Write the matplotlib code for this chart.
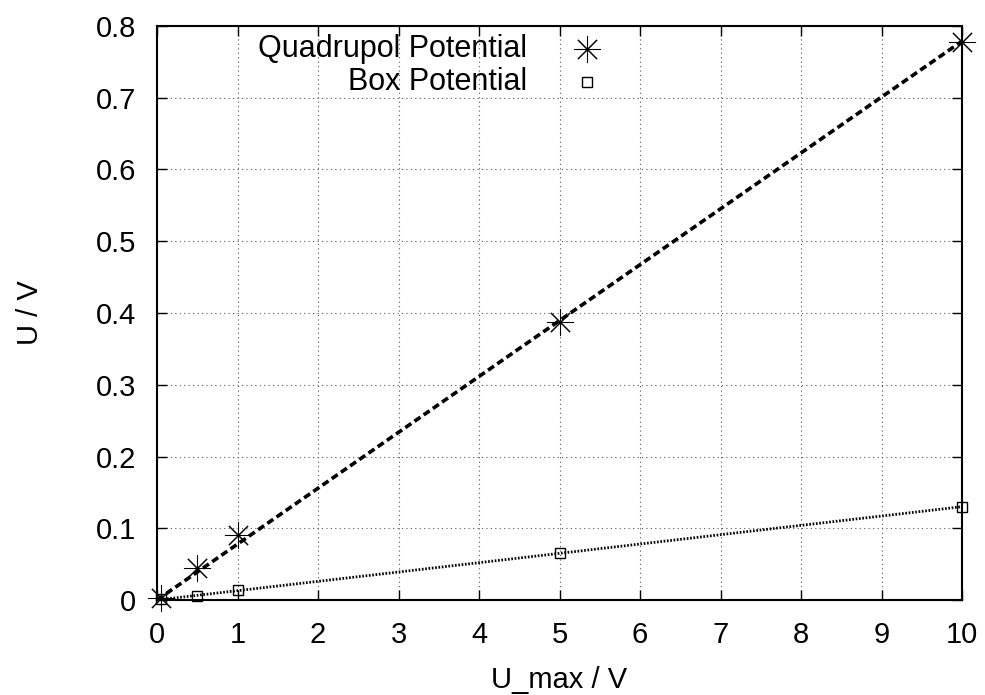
import numpy as np
import matplotlib; matplotlib.use("Agg")
import matplotlib.pyplot as plt
from matplotlib.lines import Line2D
from matplotlib.ticker import FuncFormatter

plt.rcParams['font.family'] = ['Liberation Sans', 'DejaVu Sans']

u_max = [0.05, 0.5, 1, 5, 10]
u_quad = [0.003, 0.045, 0.090, 0.388, 0.778]
u_box = [0.0007, 0.0056, 0.014, 0.065, 0.130]
labels = ["Quadrupol Potential", "Box Potential"]

# linear fits through origin, as in the original
def slope(x, y):
    x = np.array(x); y = np.array(y)
    return (x*y).sum()/(x*x).sum()
k_quad = slope(u_max, u_quad); k_box = slope(u_max, u_box)
xf = np.linspace(0, 10, 2)

W, H = 985, 695
fig = plt.figure(figsize=(W/100, H/100), dpi=100)
ax = fig.add_axes([157/W, 1-600/H, (962-157)/W, (600-26)/H])

STAR = dict(ls="none", marker=(8, 2, 0), ms=19.5, mew=0.75, color="black")
BOX = dict(ls="none", marker="s", ms=6.5, mew=1.0, mfc="none", mec="black")
ax.plot(xf, k_quad*xf, color="black", lw=2.6, ls=(0, (2.0, 1.1)))
ax.plot(xf, k_box*xf, color="black", lw=2.0, ls=(0, (0.6, 0.6)))
ax.plot(u_max, u_quad, clip_on=False, **STAR)
ax.plot(u_max, u_box, clip_on=False, **BOX)

ax.set_xlim(0, 10); ax.set_ylim(0, 0.8)
ax.set_xticks(np.arange(0, 11, 1))
ax.set_yticks(np.arange(0, 0.81, 0.1))
ax.yaxis.set_major_formatter(FuncFormatter(lambda v, p: "0" if abs(v) < 1e-9 else f"{v:.1f}"))
ax.tick_params(direction="in", top=True, right=True, labelsize=21, length=7, width=1, pad=15)
ax.grid(True, color="#555555", ls=(0, (1, 3)), lw=0.8)
for s in ax.spines.values(): s.set_linewidth(1.5)
ax.set_xlabel("U_max / V", fontsize=21, labelpad=12)
ax.set_ylabel("U / V", fontsize=21, labelpad=37)

# legend, gnuplot style: right-aligned text, sample to the right
for i, (lab, st) in enumerate(zip(labels, [STAR, BOX])):
    yy = 1 - (49 + 33*i)/H
    fig.text(527/W, yy, lab, ha="right", va="center", fontsize=22)
    fig.add_artist(Line2D([587/W], [yy], transform=fig.transFigure, **st))

fig.savefig("out.png", dpi=100)
